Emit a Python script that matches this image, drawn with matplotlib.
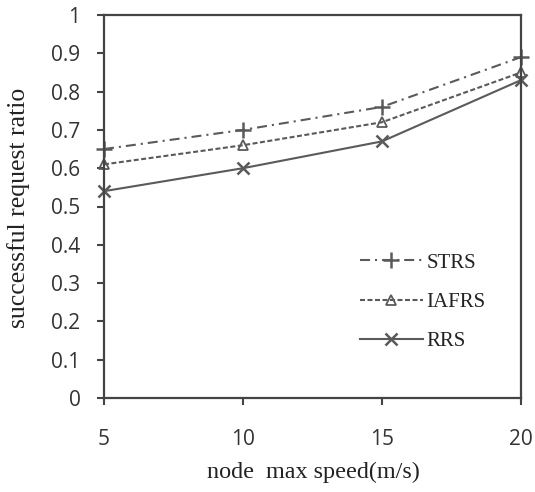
import matplotlib
matplotlib.use("Agg")
import matplotlib.pyplot as plt

# data
speed = [5, 10, 15, 20]
strs = [0.65, 0.70, 0.76, 0.89]
iafrs = [0.61, 0.66, 0.72, 0.85]
rrs = [0.54, 0.60, 0.67, 0.83]
labels = ["STRS", "IAFRS", "RRS"]
yticks = [0, 0.1, 0.2, 0.3, 0.4, 0.5, 0.6, 0.7, 0.8, 0.9, 1]
yticklabels = ["0", "0.1", "0.2", "0.3", "0.4", "0.5", "0.6", "0.7", "0.8", "0.9", "1"]

fig = plt.figure(figsize=(5.35, 4.92), dpi=100)
# axes box placed to match the reference (px: 104..521 x 15..398)
ax = fig.add_axes([104 / 535, 94 / 492, 417 / 535, 383 / 492])

c = "#5a5a5a"
ax.plot(speed, strs, color=c, ls=(0, (4.8, 2.4, 1, 2.4)), lw=1.5, marker="+", ms=11,
        mew=1.8, clip_on=False, label=labels[0])
ax.plot(speed, iafrs, color=c, ls=(0, (2.4, 1.2)), lw=1.5, marker="^", ms=7,
        mfc="none", mew=1.3, clip_on=False, label=labels[1])
ax.plot(speed, rrs, color=c, ls="-", lw=1.5, marker="x", ms=9, mew=1.8,
        clip_on=False, label=labels[2])

ax.set_xlim(5, 20)
ax.set_ylim(0, 1)
ax.set_xticks(speed)
ax.set_yticks(yticks)
ax.set_yticklabels(yticklabels)
for s in ax.spines.values():
    s.set_color("#444444")
    s.set_linewidth(1.6)
ax.tick_params(colors="#444444", labelcolor="#333333", labelsize=15, width=1.5, length=5)
ax.tick_params(axis="y", pad=12)
ax.tick_params(axis="x", pad=17)
for t in ax.get_xticklabels() + ax.get_yticklabels():
    t.set_family("Open Sans")

ax.set_xlabel("node  max speed(m/s)", family="Liberation Serif", fontsize=17.4, color="#222222")
ax.set_ylabel("successful request ratio", family="Liberation Serif", fontsize=18.5, color="#222222")
# label positions in figure pixels, centred on the axes box
ax.yaxis.set_label_coords(30 / 535, (492 - 208) / 492, transform=fig.transFigure)
ax.xaxis.set_label_coords(313 / 535, (492 - 462) / 492, transform=fig.transFigure)

leg = ax.legend(loc="upper left", bbox_to_anchor=(360 / 535, (492 - 253) / 492),
                bbox_transform=fig.transFigure, frameon=False, borderpad=0, borderaxespad=0,
                prop={"family": "Liberation Serif", "size": 15}, labelspacing=0.95,
                handlelength=3.0, handletextpad=0.2, numpoints=1)
for t in leg.get_texts():
    t.set_color("#222222")

fig.savefig("out.png", dpi=100)
